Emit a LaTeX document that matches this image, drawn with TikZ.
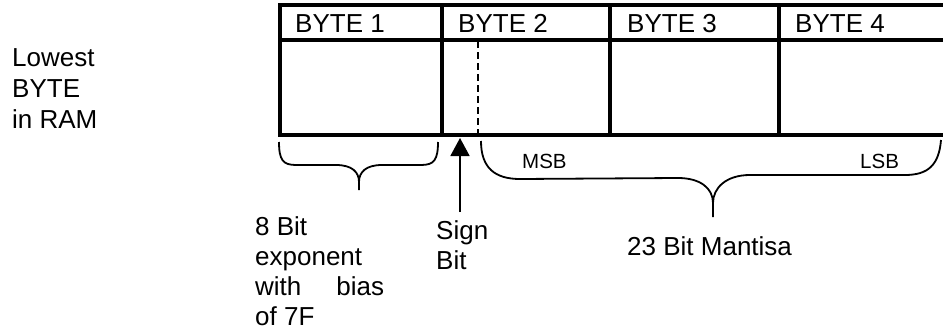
\documentclass[tikz,border=0pt]{standalone}
\usepackage{fontspec}
\setmainfont{Liberation Sans}
\usetikzlibrary{arrows.meta}
\begin{document}
\begin{tikzpicture}[x=1pt,y=-1pt,
  frame/.style={line width=3.8pt},
  bracepath/.style={line width=1.8pt,line join=round},
  lbl/.style={anchor=base west,inner sep=0pt,font=\fontsize{26}{30}\selectfont},
  smalllbl/.style={anchor=base west,inner sep=0pt,font=\fontsize{20.5}{24}\selectfont}]
\useasboundingbox (0,0) rectangle (943,332);
\fill[white] (0,0) rectangle (943,332);

% memory row: header strip and cells, open to the right
\begin{scope}
\clip (0,0) rectangle (943,332);
\coordinate (tl) at (280,5);
\coordinate (bl) at (280,135);
\draw[frame] (960,5) -- (tl) -- (bl) -- (960,135);
\draw[frame] (280,40) -- (960,40);
\draw[frame] (442,5) -- (442,135);
\draw[frame] (610,5) -- (610,135);
\draw[frame] (779,5) -- (779,135);
\draw[line width=1.8pt,dash pattern=on 7pt off 4pt] (478,41) -- (478,134);
\end{scope}

% byte headings
\node[lbl] (b1) at (295,32) {BYTE 1};
\node[lbl] (b2) at (458,32) {BYTE 2};
\node[lbl] (b3) at (627,32) {BYTE 3};
\node[lbl] (b4) at (795,32) {BYTE 4};

% side note
\node[lbl] (low1) at (12,66) {Lowest};
\node[lbl] (low2) at (12,97) {BYTE};
\node[lbl] (low3) at (12,128) {in RAM};

% exponent brace
\coordinate (eL) at (279,142);
\coordinate (eR) at (438,142);
\coordinate (eTip) at (359,190);
\draw[bracepath] (eL) .. controls (279,160) and (283,165) .. (296,165) -- (336,165)
  .. controls (352,165) and (359,172) .. (359,182) -- (eTip);
\draw[bracepath] (eR) .. controls (438,160) and (434,165) .. (421,165) -- (382,165)
  .. controls (366,165) and (359,172) .. (359,182);

% sign bit arrow
\coordinate (sFoot) at (460,212);
\coordinate (sHead) at (460,138);
\draw[line width=1.8pt,-{Triangle[width=19pt,length=18pt]}] (sFoot) -- (sHead);

% mantissa brace
\coordinate (mL) at (481,141);
\coordinate (mR) at (941,140);
\coordinate (mTip) at (713,217);
\draw[bracepath] (mL) .. controls (481,168) and (495,179) .. (520,179) -- (678,178)
  .. controls (700,178) and (713,188) .. (713,203) -- (mTip);
\draw[bracepath] (mR) .. controls (939,165) and (928,175) .. (905,175) -- (750,175)
  .. controls (726,175) and (713,188) .. (713,203);

\node[smalllbl] (msb) at (522,168) {MSB};
\node[smalllbl] (lsb) at (860,168) {LSB};

% field captions
\node[lbl] (ex1) at (255,235) {8 Bit};
\node[lbl] (ex2) at (255,265) {exponent};
\node[lbl] (ex3) at (255,295) {\hbox to 129pt{with\hfill bias}};
\node[lbl] (ex4) at (255,325) {of 7F};

\node[lbl] (sg1) at (436,239) {Sign};
\node[lbl] (sg2) at (436,269) {Bit};

\node[lbl] (man) at (627,255) {23 Bit Mantisa};
\end{tikzpicture}
\end{document}
